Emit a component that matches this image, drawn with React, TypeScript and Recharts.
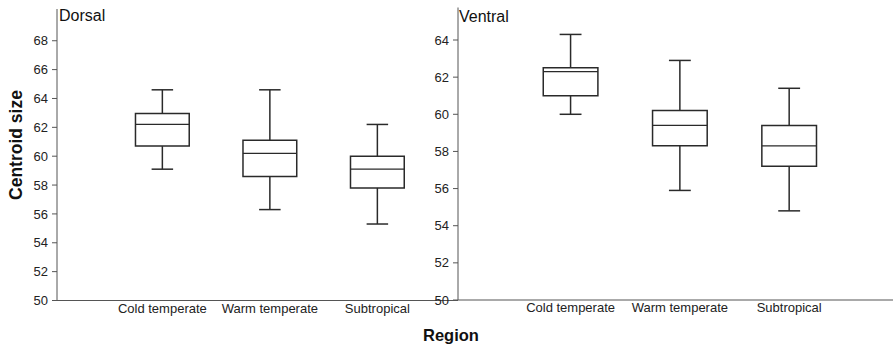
import React from 'react';
import {
  ComposedChart,
  XAxis,
  YAxis,
  Scatter,
  ReferenceArea,
  ReferenceLine,
} from 'recharts';

const categories = ['Cold temperate', 'Warm temperate', 'Subtropical'];
const positions = [1, 2, 3];

const dorsalMin = [59.1, 56.3, 55.3];
const dorsalQ1 = [60.7, 58.6, 57.8];
const dorsalMedian = [62.2, 60.2, 59.1];
const dorsalQ3 = [62.95, 61.1, 60.0];
const dorsalMax = [64.6, 64.6, 62.2];

const ventralMin = [60.0, 55.9, 54.8];
const ventralQ1 = [61.0, 58.3, 57.2];
const ventralMedian = [62.3, 59.4, 58.3];
const ventralQ3 = [62.5, 60.2, 59.4];
const ventralMax = [64.3, 62.9, 61.4];

const dorsalTicks = [50, 52, 54, 56, 58, 60, 62, 64, 66, 68];
const ventralTicks = [50, 52, 54, 56, 58, 60, 62, 64];

const FONT = '"Liberation Sans", Arial, sans-serif';
const BOX_COLOR = '#2a2a2a';
const AXIS_COLOR = '#555';
const BOX_HALF = 0.25;
const CAP_HALF = 0.1;

type Stats = {
  min: number[];
  q1: number[];
  median: number[];
  q3: number[];
  max: number[];
};

const buildRows = (s: Stats) =>
  positions.map((p, i) => ({
    pos: p,
    name: categories[i],
    min: s.min[i],
    q1: s.q1[i],
    median: s.median[i],
    q3: s.q3[i],
    max: s.max[i],
  }));

const renderBoxes = (rows: ReturnType<typeof buildRows>) => {
  const out: React.ReactNode[] = [];
  rows.forEach((r, i) => {
    out.push(
      <ReferenceLine
        key={`wu${i}`}
        segment={[{ x: r.pos, y: r.q3 }, { x: r.pos, y: r.max }]}
        stroke={BOX_COLOR}
        strokeWidth={1.5}
      />,
      <ReferenceLine
        key={`wl${i}`}
        segment={[{ x: r.pos, y: r.min }, { x: r.pos, y: r.q1 }]}
        stroke={BOX_COLOR}
        strokeWidth={1.5}
      />,
      <ReferenceLine
        key={`cu${i}`}
        segment={[{ x: r.pos - CAP_HALF, y: r.max }, { x: r.pos + CAP_HALF, y: r.max }]}
        stroke={BOX_COLOR}
        strokeWidth={1.5}
      />,
      <ReferenceLine
        key={`cl${i}`}
        segment={[{ x: r.pos - CAP_HALF, y: r.min }, { x: r.pos + CAP_HALF, y: r.min }]}
        stroke={BOX_COLOR}
        strokeWidth={1.5}
      />,
      <ReferenceArea
        key={`b${i}`}
        x1={r.pos - BOX_HALF}
        x2={r.pos + BOX_HALF}
        y1={r.q1}
        y2={r.q3}
        fill="#ffffff"
        fillOpacity={1}
        stroke={BOX_COLOR}
        strokeWidth={1.5}
      />,
      <ReferenceLine
        key={`m${i}`}
        segment={[{ x: r.pos - BOX_HALF, y: r.median }, { x: r.pos + BOX_HALF, y: r.median }]}
        stroke={BOX_COLOR}
        strokeWidth={1.2}
      />
    );
  });
  return out;
};

const tickStyle = { fontSize: 13, fill: '#222', fontFamily: FONT };

type PanelProps = {
  rows: ReturnType<typeof buildRows>;
  width: number;
  yAxisWidth: number;
  top: number;
  bottom: number;
  yDomain: [number, number];
  xDomain: [number, number];
  yTicks: number[];
};

const Panel = ({ rows, width, yAxisWidth, top, bottom, yDomain, xDomain, yTicks }: PanelProps) => (
  <ComposedChart
    width={width}
    height={355}
    data={rows}
    margin={{ top, right: 0, bottom, left: 0 }}
  >
    <XAxis
      type="number"
      dataKey="pos"
      domain={xDomain}
      ticks={positions}
      interval={0}
      tickFormatter={(v: number) => categories[v - 1] ?? ''}
      tickLine={false}
      tickSize={0}
      tickMargin={3}
      height={30}
      axisLine={{ stroke: AXIS_COLOR, strokeWidth: 1 }}
      tick={tickStyle}
      allowDataOverflow
    />
    <YAxis
      type="number"
      domain={yDomain}
      ticks={yTicks}
      interval={0}
      width={yAxisWidth}
      tickSize={5}
      tickMargin={4}
      axisLine={{ stroke: AXIS_COLOR, strokeWidth: 1 }}
      tickLine={{ stroke: AXIS_COLOR, strokeWidth: 1 }}
      tick={tickStyle}
      allowDataOverflow
    />
    {renderBoxes(rows)}
    <Scatter
      dataKey="median"
      isAnimationActive={false}
      shape={() => <g />}
    />
  </ComposedChart>
);

const dorsalRows = buildRows({
  min: dorsalMin,
  q1: dorsalQ1,
  median: dorsalMedian,
  q3: dorsalQ3,
  max: dorsalMax,
});
const ventralRows = buildRows({
  min: ventralMin,
  q1: ventralQ1,
  median: ventralMedian,
  q3: ventralQ3,
  max: ventralMax,
});

export default function App() {
  return (
    <div
      style={{
        position: 'absolute',
        left: 0,
        top: 0,
        width: 893,
        height: 355,
        background: '#fff',
        fontFamily: FONT,
      }}
    >
      <div style={{ position: 'absolute', left: 0, top: 0 }}>
        <Panel
          rows={dorsalRows}
          width={458}
          yAxisWidth={57}
          top={9}
          bottom={24.5}
          yDomain={[50, 70.2]}
          xDomain={[0.02, 3.75]}
          yTicks={dorsalTicks}
        />
      </div>
      <div style={{ position: 'absolute', left: 400, top: 0 }}>
        <Panel
          rows={ventralRows}
          width={493}
          yAxisWidth={58}
          top={7.5}
          bottom={25}
          yDomain={[50, 65.75]}
          xDomain={[-0.03, 3.95]}
          yTicks={ventralTicks}
        />
      </div>
      <svg
        width={893}
        height={355}
        style={{ position: 'absolute', left: 0, top: 0, pointerEvents: 'none' }}
      >
        <text x={59} y={21} fontSize={16} fill="#111" fontFamily={FONT}>
          Dorsal
        </text>
        <text x={459} y={21.5} fontSize={16} fill="#111" fontFamily={FONT}>
          Ventral
        </text>
        <text
          transform="translate(22,145) rotate(-90)"
          textAnchor="middle"
          fontSize={17.5}
          fontWeight="bold"
          fill="#111"
          fontFamily={FONT}
        >
          Centroid size
        </text>
        <text
          x={451}
          y={341}
          textAnchor="middle"
          fontSize={16.5}
          fontWeight="bold"
          fill="#111"
          fontFamily={FONT}
        >
          Region
        </text>
      </svg>
    </div>
  );
}
